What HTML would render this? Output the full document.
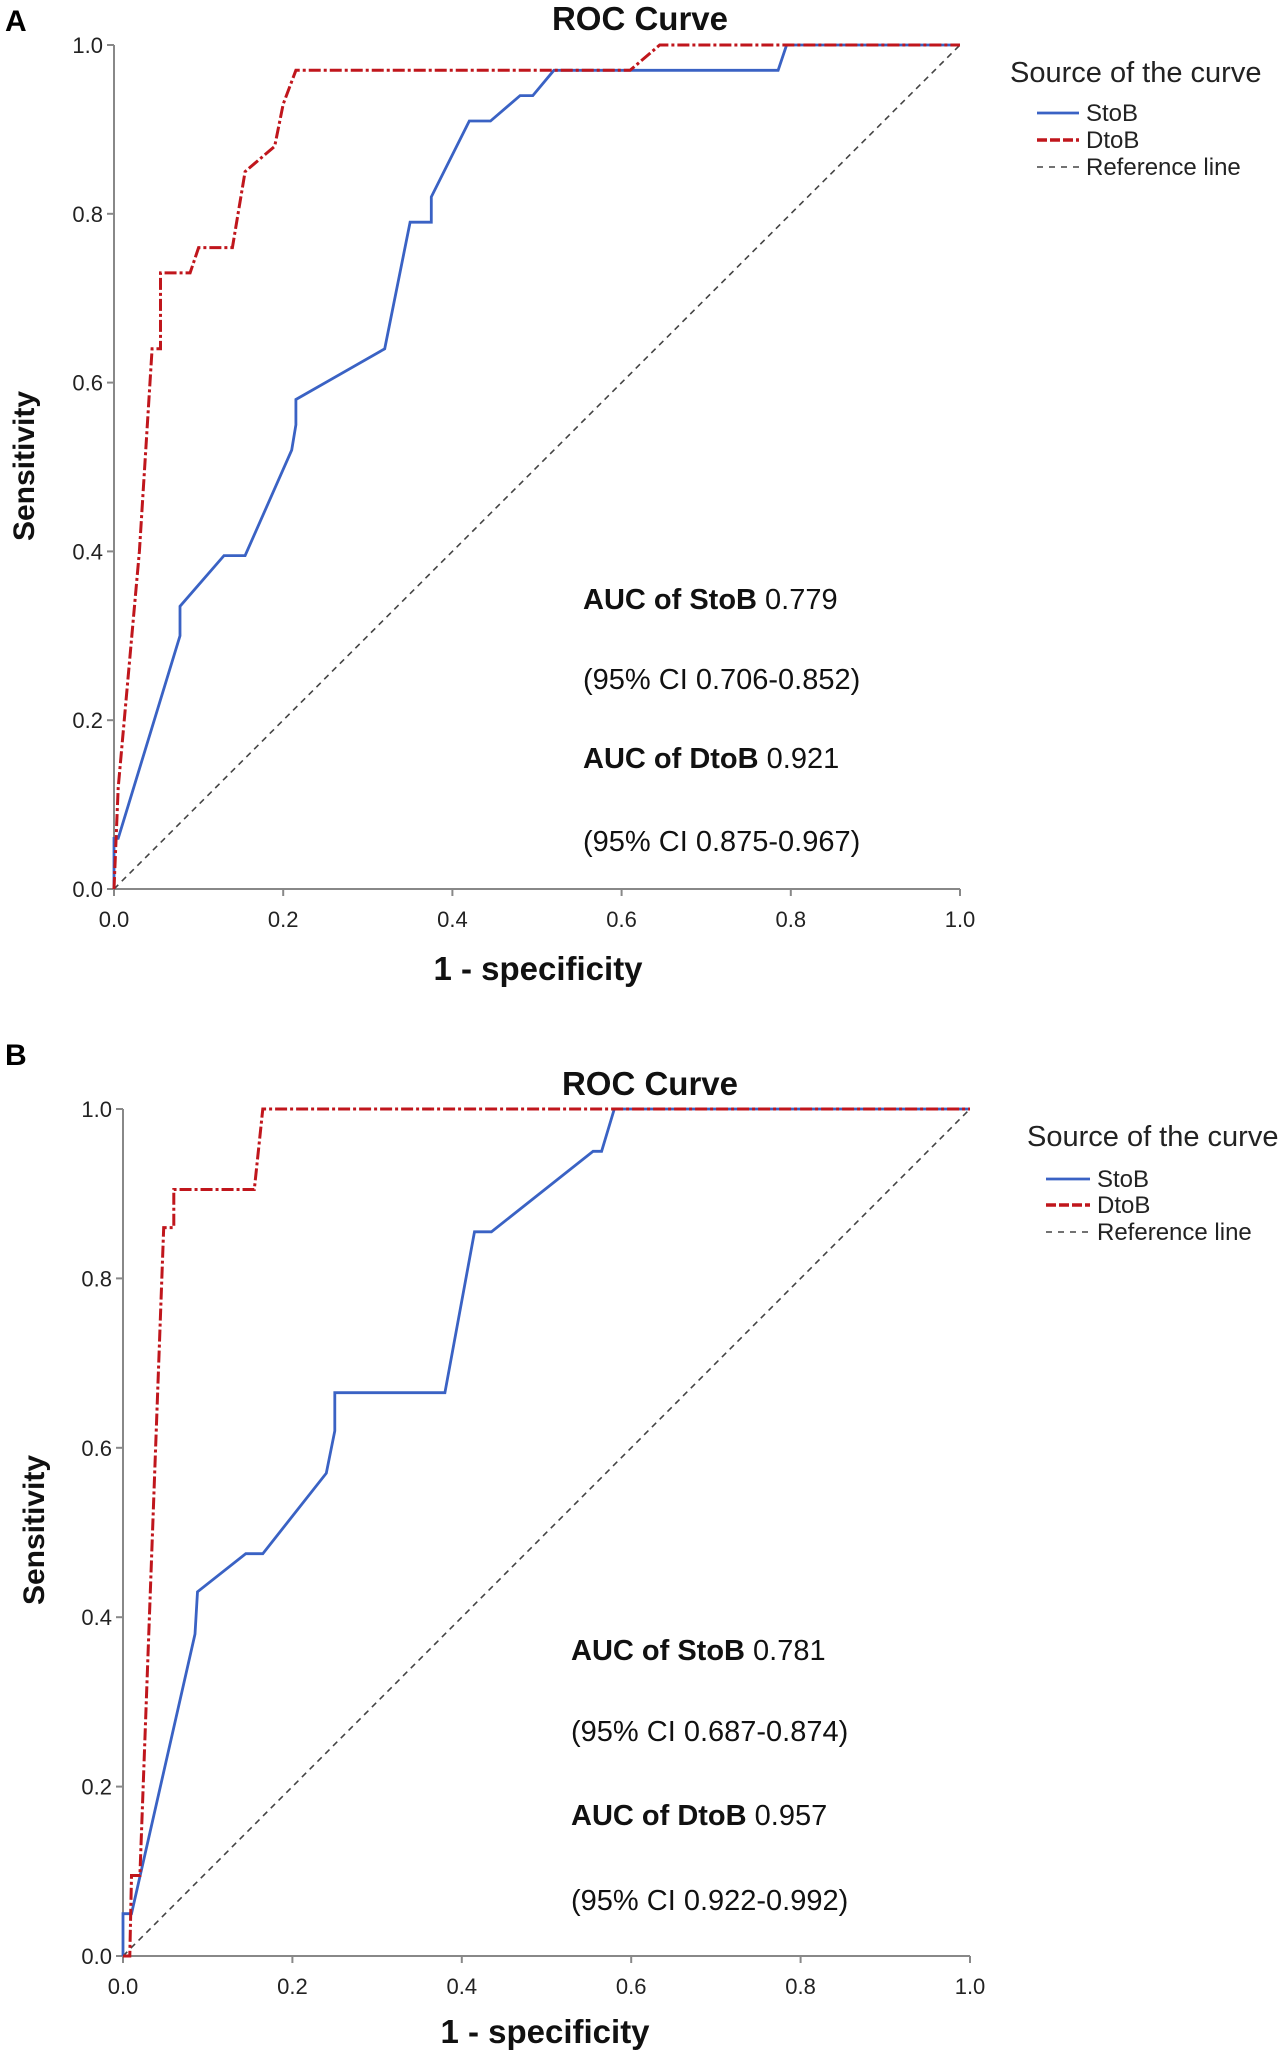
<!DOCTYPE html>
<html><head><meta charset="utf-8"><style>
html,body{margin:0;padding:0;background:#fff;}
svg{display:block;font-family:"Liberation Sans",sans-serif;}
</style></head><body>
<svg id="s" width="1280" height="2054" viewBox="0 0 1280 2054"></svg>
<script>
const ticks = [0, 0.2, 0.4, 0.6, 0.8, 1.0];
const tickLabels = ["0.0","0.2","0.4","0.6","0.8","1.0"];
const aStoBx = [0,0,0.005,0.078,0.078,0.13,0.155,0.21,0.215,0.215,0.32,0.35,0.375,0.375,0.42,0.445,0.48,0.495,0.52,0.785,0.795,1];
const aStoBy = [0,0.06,0.06,0.30,0.335,0.395,0.395,0.52,0.55,0.58,0.64,0.79,0.79,0.82,0.91,0.91,0.94,0.94,0.97,0.97,1,1];
const aDtoBx = [0,0.005,0.03,0.045,0.055,0.055,0.09,0.10,0.14,0.155,0.19,0.20,0.215,0.61,0.645,1];
const aDtoBy = [0,0.12,0.40,0.64,0.64,0.73,0.73,0.76,0.76,0.85,0.88,0.93,0.97,0.97,1,1];
const bStoBx = [0,0,0.01,0.085,0.088,0.145,0.165,0.24,0.25,0.25,0.38,0.415,0.435,0.555,0.565,0.58,1];
const bStoBy = [0,0.05,0.05,0.38,0.43,0.475,0.475,0.57,0.62,0.665,0.665,0.855,0.855,0.95,0.95,1,1];
const bDtoBx = [0,0.008,0.01,0.02,0.048,0.06,0.06,0.155,0.165,1];
const bDtoBy = [0,0,0.095,0.095,0.86,0.86,0.905,0.905,1,1];
const aucA = ["0.779","(95% CI 0.706-0.852)","0.921","(95% CI 0.875-0.967)"];
const aucB = ["0.781","(95% CI 0.687-0.874)","0.957","(95% CI 0.922-0.992)"];

const NS="http://www.w3.org/2000/svg";
const svg=document.getElementById('s');
function mk(tag,attrs,parent,text){const e=document.createElementNS(NS,tag);for(const k in attrs)e.setAttribute(k,attrs[k]);if(text!==undefined)e.textContent=text;(parent||svg).appendChild(e);return e;}

function panel(cfg){
  const g=mk('g',{});
  
  
  const sx=v=>cfg.x0+v*(cfg.x1-cfg.x0);
  const sy=v=>cfg.y0-v*(cfg.y0-cfg.y1);
  let t=mk('text',{x:cfg.letterX,y:cfg.letterY,'font-size':30,'font-weight':'bold',fill:'#000'},g,cfg.letter);
  
  t=mk('text',{x:cfg.titleX,y:cfg.titleY,'font-size':33,'font-weight':'bold','text-anchor':'middle',fill:'#111'},g,'ROC Curve');
  
  let a=mk('line',{x1:sx(0),y1:sy(0),x2:sx(1),y2:sy(0),stroke:'#888','stroke-width':2},g);
  
  a=mk('line',{x1:sx(0),y1:sy(0),x2:sx(0),y2:sy(1),stroke:'#888','stroke-width':2},g);
  
  ticks.forEach((v,i)=>{
    mk('line',{x1:sx(v),y1:sy(0),x2:sx(v),y2:sy(0)+7,stroke:'#888','stroke-width':2},g);
    mk('line',{x1:sx(0)-7,y1:sy(v),x2:sx(0),y2:sy(v),stroke:'#888','stroke-width':2},g);
    let l=mk('text',{x:sx(v),y:sy(0)+38,'font-size':22,'text-anchor':'middle',fill:'#222'},g,tickLabels[i]);
    
    l=mk('text',{x:sx(0)-11,y:sy(v)+8,'font-size':22,'text-anchor':'end',fill:'#222'},g,tickLabels[i]);
    
  });
  t=mk('text',{x:cfg.xtX,y:cfg.xtY,'font-size':33,'font-weight':'bold','text-anchor':'middle',fill:'#111'},g,'1 - specificity');
  
  t=mk('text',{x:0,y:0,'font-size':30,'font-weight':'bold','text-anchor':'middle',fill:'#111',transform:`translate(${cfg.ytX},${cfg.ytY}) rotate(-90)`},g,'Sensitivity');
  
  let r=mk('line',{x1:sx(0),y1:sy(0),x2:sx(1),y2:sy(1),stroke:'#444','stroke-width':1.6,'stroke-dasharray':'6,5'},g);
  
  const pts=(xs,ys)=>xs.map((x,i)=>sx(x).toFixed(1)+','+sy(ys[i]).toFixed(1)).join(' ');
  let p=mk('polyline',{points:pts(cfg.sx,cfg.sy),fill:'none',stroke:'#3a62c4','stroke-width':2.8},g);
  
  p=mk('polyline',{points:pts(cfg.dx,cfg.dy),fill:'none',stroke:'#c0161c','stroke-width':3,'stroke-dasharray':'12,3,3,3'},g);
  
  t=mk('text',{x:cfg.lgX,y:cfg.lgY,'font-size':29,fill:'#222'},g,'Source of the curve');
  
  const items=[['StoB','#3a62c4','none',2.8],['DtoB','#c0161c','10,3',3.5],['Reference line','#444','6,6',1.6]];
  items.forEach((it,i)=>{
    const y=cfg.lgItemY[i];
    const le=mk('g',{},g);
    
    mk('line',{x1:cfg.lgLine[0],y1:y,x2:cfg.lgLine[1],y2:y,stroke:it[1],'stroke-width':it[3],'stroke-dasharray':it[2]},le);
    mk('text',{x:cfg.lgLine[1]+7,y:y+8,'font-size':24,fill:'#222'},le,it[0]);
  });
  const labs=['AUC of StoB',null,'AUC of DtoB',null];
  cfg.auc.forEach((s,i)=>{
    const tx=mk('text',{x:cfg.aucX,y:cfg.aucY[i],'font-size':29,fill:'#111'},g);
    
    if(labs[i]){mk('tspan',{'font-weight':'bold'},tx,labs[i]+' ');}
    mk('tspan',{},tx,s);
  });
}

panel({name:'panel-a',letter:'A',letterX:5,letterY:31,titleX:640,titleY:30,
  x0:114,x1:960,y0:889,y1:45,xtX:538,xtY:980,ytX:34,ytY:466,
  sx:aStoBx,sy:aStoBy,dx:aDtoBx,dy:aDtoBy,
  lgX:1010,lgY:82,lgItemY:[113,140,167],lgLine:[1037,1079],
  aucX:583,aucY:[609,689,768,851],auc:aucA});
panel({name:'panel-b',letter:'B',letterX:5,letterY:1065,titleX:650,titleY:1095,
  x0:123,x1:970,y0:1956,y1:1109,xtX:545,xtY:2043,ytX:44,ytY:1530,
  sx:bStoBx,sy:bStoBy,dx:bDtoBx,dy:bDtoBy,
  lgX:1027,lgY:1146,lgItemY:[1179,1205,1232],lgLine:[1046,1090],
  aucX:571,aucY:[1660,1741,1825,1910],auc:aucB});
</script>
</body></html>
